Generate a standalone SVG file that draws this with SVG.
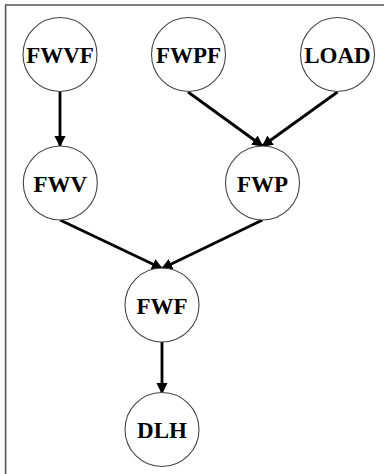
<svg xmlns="http://www.w3.org/2000/svg" width="384" height="474" viewBox="0 0 384 474">
  <defs>
    <style>
      .node circle { fill: #ffffff; stroke: #444444; stroke-width: 1.1; }
      .node text { font-family: "Liberation Serif", "Times New Roman", serif; font-weight: bold; font-size: 23px; fill: #000000; text-anchor: middle; }
      .edge { stroke: #000000; stroke-width: 2.8; fill: none; marker-end: url(#arrow); }
    </style>
    <marker id="arrow" viewBox="0 0 10 10" refX="9" refY="5" markerWidth="4" markerHeight="4" markerUnits="strokeWidth" orient="auto">
      <path d="M0,0 L10,5 L0,10 Z" fill="#000000"/>
    </marker>
  </defs>

  <rect x="0" y="0" width="384" height="474" fill="#ffffff"/>
  <!-- frame: left and top edges -->
  <path d="M5.6,474 V5 H384" fill="none" stroke="#555555" stroke-width="1.6"/>

  <g id="connectors">
    <line class="edge" x1="60" y1="92" x2="60" y2="146"/>
    <line class="edge" x1="188" y1="92" x2="262.5" y2="146"/>
    <line class="edge" x1="337.5" y1="92" x2="262.5" y2="146"/>
    <line class="edge" x1="60" y1="220" x2="162" y2="268.5"/>
    <line class="edge" x1="262.5" y1="220" x2="162" y2="268.5"/>
    <line class="edge" x1="162" y1="342" x2="162" y2="393"/>
  </g>

  <g id="FWVF" class="node">
    <circle cx="60" cy="54.5" r="37"/>
    <text x="60" y="63">FWVF</text>
  </g>
  <g id="FWPF" class="node">
    <circle cx="188.5" cy="54.5" r="37"/>
    <text x="188.5" y="63">FWPF</text>
  </g>
  <g id="LOAD" class="node">
    <circle cx="337.5" cy="54.5" r="37"/>
    <text x="337.5" y="63">LOAD</text>
  </g>
  <g id="FWV" class="node">
    <circle cx="60.3" cy="183" r="37"/>
    <text x="60.3" y="191.5">FWV</text>
  </g>
  <g id="FWP" class="node">
    <circle cx="262.5" cy="183" r="37"/>
    <text x="262.5" y="191.5">FWP</text>
  </g>
  <g id="FWF" class="node">
    <circle cx="162" cy="305" r="37"/>
    <text x="162" y="313.5">FWF</text>
  </g>
  <g id="DLH" class="node">
    <circle cx="162" cy="429.5" r="37"/>
    <text x="162" y="438">DLH</text>
  </g>
</svg>
